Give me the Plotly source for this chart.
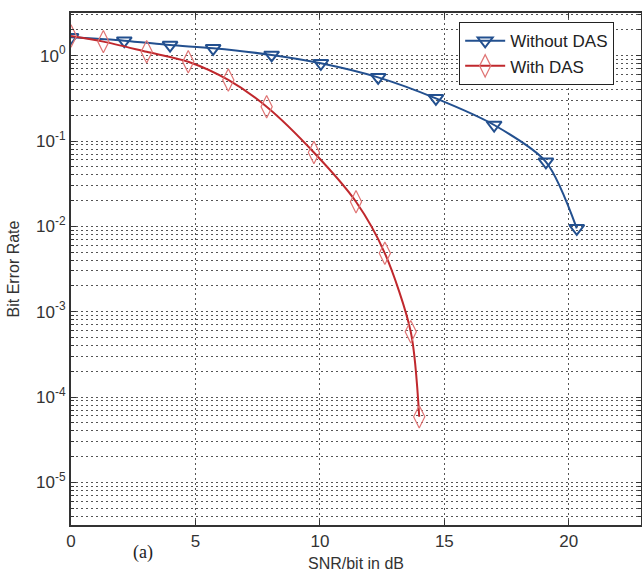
import plotly.graph_objects as go

# Data
snr_without = [0.0, 2.14, 3.98, 5.71, 8.06, 10.04, 12.34, 14.66, 17.0, 19.08, 20.32]
ber_without = [1.64, 1.50, 1.33, 1.22, 1.02, 0.815, 0.557, 0.316, 0.154, 0.0571, 0.00948]

snr_with = [0.0, 1.30, 3.04, 4.71, 6.32, 7.86, 9.76, 11.45, 12.61, 13.65, 13.99]
ber_with = [1.70, 1.46, 1.11, 0.849, 0.519, 0.252, 0.0733, 0.0194, 0.00483, 0.000582, 0.0000587]

x_ticks = [0, 5, 10, 15, 20]
y_exps = [0, -1, -2, -3, -4, -5]
y_ticks = [10.0 ** e for e in y_exps]
y_ticktext = ["10<sup>%d</sup>" % e for e in y_exps]
y_minor = [k * 10.0 ** e for e in range(-6, 1) for k in range(2, 10)]

blue = "#23508f"
red = "#c0282d"

fig = go.Figure()
fig.add_trace(go.Scatter(
    x=snr_without, y=ber_without, name="Without DAS",
    mode="lines+markers",
    line=dict(color=blue, width=2, shape="spline", smoothing=0.8),
    marker=dict(symbol="triangle-down-open", size=13, color=blue,
                line=dict(width=2, color=blue)),
))
fig.add_trace(go.Scatter(
    x=snr_with, y=ber_with, name="With DAS",
    mode="lines+markers",
    line=dict(color=red, width=2, shape="spline", smoothing=0.8),
    marker=dict(symbol="diamond-tall-open", size=16, color="#e07575",
                line=dict(width=1.2, color="#e07575")),
))

grid_dash = "1.5px,3.5px"
grid_color = "#555555"

fig.update_layout(
    width=642, height=574,
    margin=dict(l=71, r=1, t=13, b=49, autoexpand=False),
    paper_bgcolor="white", plot_bgcolor="white",
    font=dict(family="Liberation Sans, Arial, sans-serif", size=15, color="#333333"),
    showlegend=True,
    legend=dict(
        x=0.681, y=0.982, xanchor="left", yanchor="top",
        bgcolor="white", bordercolor="#222222", borderwidth=1,
        font=dict(size=17, color="#222222"),
        tracegroupgap=0, itemwidth=40,
    ),
    xaxis=dict(
        range=[0, 22.9], tickvals=x_ticks, automargin=False,
        showline=True, linecolor="#333333", linewidth=2, mirror="ticks",
        ticks="inside", ticklen=5, tickcolor="#333333",
        showgrid=True, gridcolor=grid_color, griddash=grid_dash, gridwidth=1,
        zeroline=False,
        tickfont=dict(size=17),
        title=dict(text="SNR/bit in dB", font=dict(size=16), standoff=7),
    ),
    yaxis=dict(
        type="log", range=[-5.5, 0.5], automargin=False,
        tickvals=y_ticks, ticktext=y_ticktext,
        showline=True, linecolor="#333333", linewidth=2, mirror="ticks",
        ticks="inside", ticklen=5, tickcolor="#333333",
        showgrid=True, gridcolor=grid_color, griddash=grid_dash, gridwidth=1,
        zeroline=False,
        tickfont=dict(size=17),
        minor=dict(tickvals=y_minor, ticks="inside", ticklen=3, tickcolor="#333333",
                   showgrid=True, gridcolor=grid_color, griddash=grid_dash, gridwidth=1),
        title=dict(text="Bit Error Rate", font=dict(size=16), standoff=12),
    ),
    annotations=[dict(
        text="(a)", xref="paper", yref="paper", x=0.126, y=-0.053,
        xanchor="center", yanchor="middle", showarrow=False,
        font=dict(family="Liberation Serif, Times New Roman, serif", size=18, color="#222222"),
    )],
)

fig.write_html(
    "out.html",
    config={"displayModeBar": False},
    post_script="document.body.style.margin='0';document.body.style.overflow='hidden';",
)
